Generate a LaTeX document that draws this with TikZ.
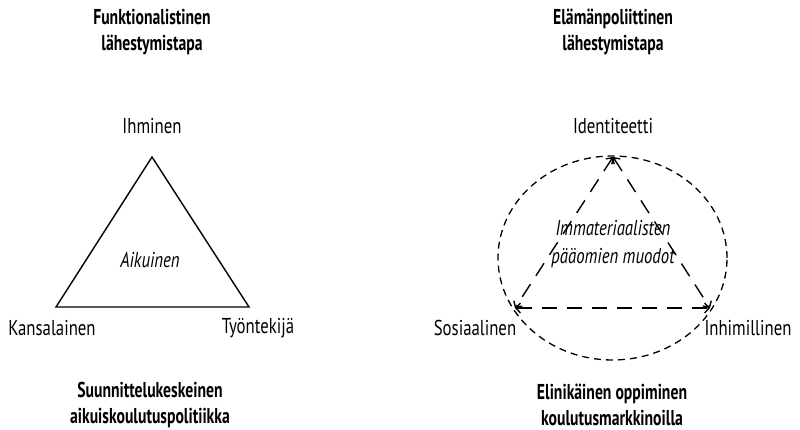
\documentclass[tikz,border=0pt]{standalone}
\usepackage{fontspec}
\setmainfont[FakeStretch=0.78,BoldFeatures={FakeStretch=0.73}]{PT Sans}
\usetikzlibrary{arrows.meta,shapes.geometric}

\tikzset{
  label/.style={font=\fontsize{21.5}{24}\selectfont, inner sep=0pt},
  inner/.style={font=\fontsize{21.5}{28}\selectfont\itshape, inner sep=0pt, align=center},
  title/.style={font=\fontsize{21.5}{26}\selectfont\bfseries, inner sep=0pt, align=center},
  dashline/.style={line width=1.4pt, dash pattern=on 15pt off 10pt,
    {Straight Barb[length=4.5pt,width=10pt]}-{Straight Barb[length=4.5pt,width=10pt]}}
}

\begin{document}
\begin{tikzpicture}[x=1pt,y=-1pt]
      \useasboundingbox (0,0) rectangle (800,430);
      % vasen kolmio
      \node[title] (funk) at (152,32) {Funktionalistinen\\lähestymistapa};
      \coordinate (ihm) at (152,157);
      \coordinate (kan) at (56,307);
      \coordinate (tyo) at (249,307);
      \node[label] (ihmL) at (152,126) {Ihminen};
      \node[label] (kanL) at (52,328) {Kansalainen};
      \node[label] (tyoL) at (258,328) {Työntekijä};
      \node[inner] (aik) at (150,260) {Aikuinen};
      \draw[line width=1.4pt, line join=miter] (ihm) -- (kan) -- (tyo) -- cycle;
      \node[title] (suun) at (150,405) {Suunnittelukeskeinen\\aikuiskoulutuspolitiikka};
      % oikea kolmio
      \node[title] (elam) at (613,32) {Elämänpoliittinen\\lähestymistapa};
      \node[ellipse, draw, line width=1.3pt, dash pattern=on 7pt off 5pt,
        minimum width=229pt, minimum height=204pt, inner sep=0pt] (kehä) at (612.5,258) {};
      \coordinate (ide) at (613,157);
      \coordinate (sos) at (515,308);
      \coordinate (inh) at (710,308);
      \node[label] (ideL) at (613,126) {Identiteetti};
      \node[label] (sosL) at (475,328) {Sosiaalinen};
      \node[label] (inhL) at (748,328) {Inhimillinen};
      \node[inner] (imm) at (613,244) {Immateriaalisten\\pääomien muodot};
      \begin{scope}[dashline]
        \draw (ide) to (sos);
        \draw (ide) to (inh);
        \draw (sos) to (inh);
      \end{scope}
      \node[title] (elin) at (612,405) {Elinikäinen oppiminen\\koulutusmarkkinoilla};
    \end{tikzpicture}
\end{document}
